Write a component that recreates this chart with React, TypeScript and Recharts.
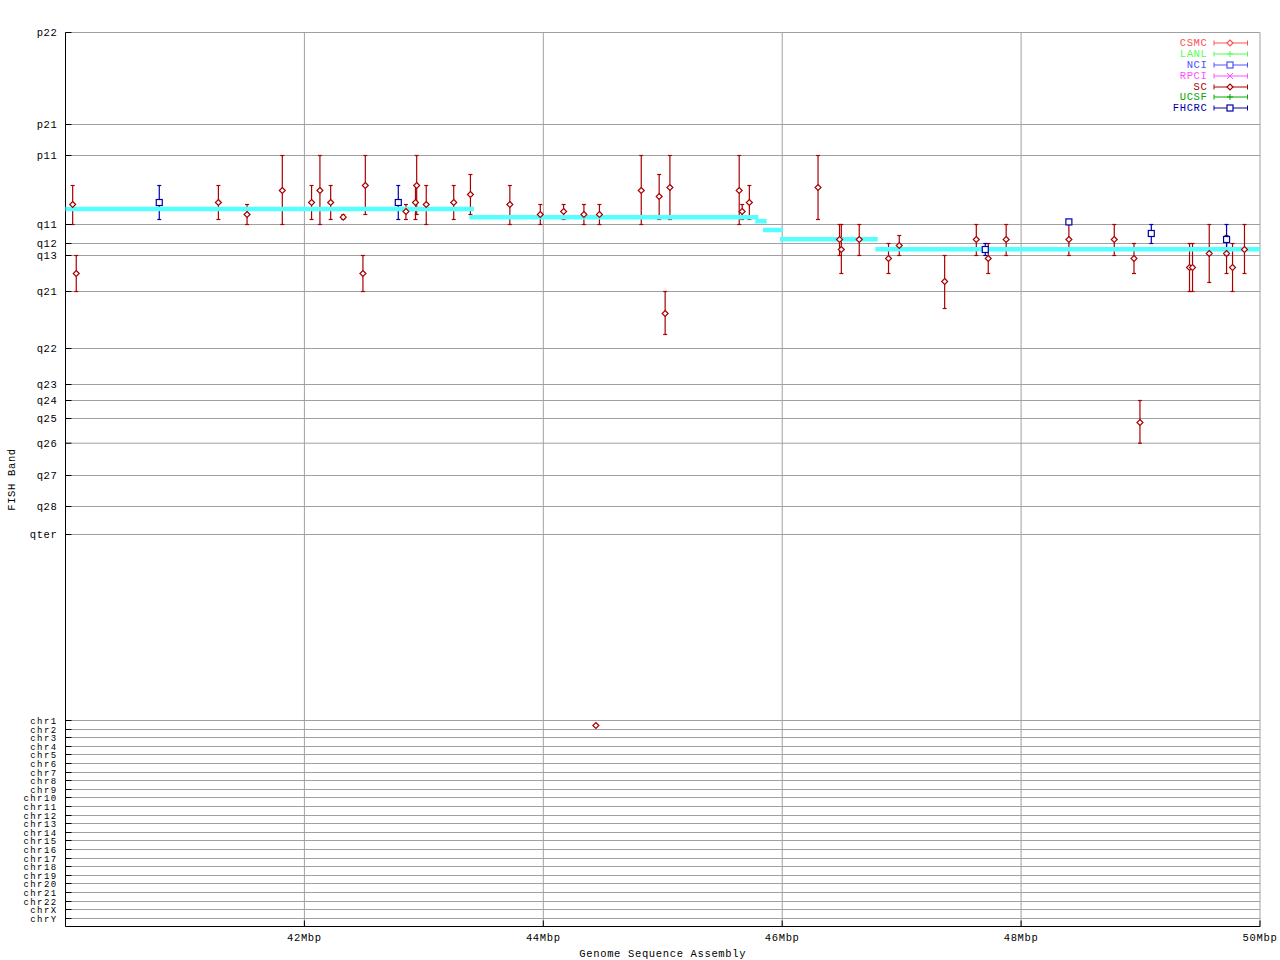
import React from 'react';
import {
  ComposedChart, Scatter, ErrorBar, XAxis, YAxis, CartesianGrid, Legend, Label,
} from 'recharts';

const FONT = '"Liberation Mono", "DejaVu Sans Mono", monospace';
const FS = 10.5;
const LS = 0.65;

// FISH band ticks (ideogram units, p22 at top)
const BAND_LABELS = [
  'p22', 'p21', 'p11', 'q11', 'q12', 'q13', 'q21', 'q22', 'q23', 'q24', 'q25', 'q26', 'q27', 'q28', 'qter',
  'chr1', 'chr2', 'chr3', 'chr4', 'chr5', 'chr6', 'chr7', 'chr8', 'chr9', 'chr10', 'chr11', 'chr12',
  'chr13', 'chr14', 'chr15', 'chr16', 'chr17', 'chr18', 'chr19', 'chr20', 'chr21', 'chr22', 'chrX', 'chrY',
];
const BAND_POS = [
  0, 92, 123, 192, 211, 223, 259, 316, 352, 368, 386, 410.7, 443, 474, 502,
  688, 697, 705, 714, 722, 731, 740, 748, 757, 765, 774, 783,
  791, 800, 808, 817, 826, 834, 843, 851, 860, 869, 877, 886,
];
const BAND_END = 894;

const X_TICKS = [42, 44, 46, 48, 50];

const SOURCE_NAMES = ['CSMC', 'LANL', 'NCI', 'RPCI', 'SC', 'UCSF', 'FHCRC'];
const SOURCE_COLORS = ['#ff5050', '#50ff50', '#5050ff', '#ff50ff', '#aa0000', '#00aa00', '#0000aa'];
const SOURCE_MARKERS = ['diamond', 'plus', 'square', 'cross', 'diamond', 'plus', 'square'];

// SC markers: position (Mbp), band, band range top/bottom
const SC_MBP = [
  40.06, 40.09, 41.28, 41.52, 41.815, 42.06, 42.13, 42.22, 42.325, 42.51, 42.49, 42.85, 42.93, 42.94,
  43.02, 43.25, 43.39, 43.72, 43.975, 44.17, 44.34, 44.47, 44.82, 44.97, 45.06, 45.02, 45.64, 45.665,
  45.725, 46.3, 46.48, 46.495, 46.645, 46.89, 46.98, 47.36, 47.625, 47.725, 47.875, 48.4, 48.78, 48.945,
  48.995, 49.41, 49.435, 49.575, 49.72, 49.77, 49.87, 44.44,
];
const SC_BAND = [
  172, 241, 170, 182, 158, 170, 158, 170, 184.7, 153, 241, 179, 170, 153,
  172, 170, 162, 172, 182, 179, 182, 182, 158, 164, 155, 281, 158, 179,
  170, 155, 207, 217, 207, 226, 213, 249, 207, 226, 207, 207, 207, 226,
  390, 235, 235, 221, 221, 235, 217, 693,
];
const SC_TOP = [
  153, 223, 153, 172, 123, 153, 123, 153, 182.4, 123, 223, 172, 153, 123,
  153, 153, 142, 153, 172, 172, 172, 172, 123, 142, 123, 259, 123, 172,
  153, 123, 192, 192, 192, 211, 203, 223, 192, 211, 192, 192, 192, 211,
  368, 211, 211, 192, 203, 211, 192, null,
];
const SC_BOTTOM = [
  192, 259, 187, 192, 192, 187, 192, 187, 186.7, 182, 259, 187, 187, 182,
  192, 187, 182, 192, 192, 187, 192, 192, 192, 187, 187, 302, 192, 187,
  187, 187, 223, 241, 223, 241, 223, 276, 223, 241, 223, 223, 223, 241,
  410.7, 259, 259, 250, 241, 259, 241, null,
];

const FH_MBP = [40.785, 42.786, 47.7, 48.4, 49.09, 49.72];
const FH_BAND = [170, 170, 217, 189.4, 201, 207];
const FH_TOP = [153, 153, 211, null, 192, 192];
const FH_BOTTOM = [187, 187, 223, null, 211, 223];

// sequence assembly placement (cyan steps)
const SEQ_START = [39.98, 43.38, 45.775, 45.84, 45.98, 46.78];
const SEQ_END = [43.42, 45.8, 45.87, 46.005, 46.8, 50];
const SEQ_BAND = [176.4, 184.7, 188.7, 197.4, 206.7, 216.7];
const SEQ_COLOR = '#55ffff';

const rows = (xs: number[], ys: number[], tops: (number | null)[], bottoms: (number | null)[]) =>
  xs.map((x, i) => ({
    x,
    y: ys[i],
    err: tops[i] == null ? null : [ys[i] - (tops[i] as number), (bottoms[i] as number) - ys[i]],
  }));

const SERIES: Record<string, any[]> = {
  SC: rows(SC_MBP, SC_BAND, SC_TOP, SC_BOTTOM),
  FHCRC: rows(FH_MBP, FH_BAND, FH_TOP, FH_BOTTOM),
};

const SEGMENTS = SEQ_START.map((s, i) => [
  { x: s, y: SEQ_BAND[i] },
  { x: SEQ_END[i], y: SEQ_BAND[i] },
]);

function Marker({ kind, cx, cy, color }: { kind: string; cx: number; cy: number; color: string }) {
  if (kind === 'diamond') {
    return <polygon points={`${cx},${cy - 3} ${cx + 3},${cy} ${cx},${cy + 3} ${cx - 3},${cy}`} fill="#fff" stroke={color} strokeWidth={1.2} />;
  }
  if (kind === 'square') {
    return <rect x={cx - 3} y={cy - 3} width={6} height={6} fill="#fff" stroke={color} strokeWidth={1.2} />;
  }
  if (kind === 'cross') {
    return <path d={`M${cx - 3},${cy - 3}L${cx + 3},${cy + 3}M${cx - 3},${cy + 3}L${cx + 3},${cy - 3}`} stroke={color} />;
  }
  return <path d={`M${cx - 3},${cy}H${cx + 3}M${cx},${cy - 3}V${cy + 3}`} stroke={color} />;
}

const txt = { fontFamily: FONT, fontSize: FS, letterSpacing: LS, fill: '#000' };

const LeftTick = ({ x, y, payload }: any) => {
  const label = BAND_LABELS[BAND_POS.indexOf(payload.value)];
  const chr = label.startsWith('chr');
  return (
    <g>
      <line x1={x} x2={x + 6} y1={y} y2={y} stroke="#000" />
      <text
        x={x - 8} y={y} dy={chr ? 3 : 3.6} textAnchor="end" {...txt}
        fontSize={chr ? 9 : FS} letterSpacing={chr ? 1.4 : LS}
      >
        {label}
      </text>
    </g>
  );
};
const RightTick = ({ x, y }: any) => <line x1={x} x2={x - 6} y1={y} y2={y} stroke="#000" />;
const BottomTick = ({ x, y, payload }: any) => (
  <g>
    <line x1={x} x2={x} y1={y} y2={y - 6} stroke="#000" />
    <text x={x} y={y + 14.5} textAnchor="middle" {...txt}>{`${payload.value}Mbp`}</text>
  </g>
);
const TopTick = ({ x, y }: any) => <line x1={x} x2={x} y1={y} y2={y + 6} stroke="#000" />;

const LegendContent = ({ payload }: any) => {
  const names = SOURCE_NAMES.filter((n) => (payload ?? []).some((p: any) => p.value === n));
  return (
    <div style={{ fontFamily: FONT, fontSize: FS, letterSpacing: LS }}>
      {names.map((n) => {
        const i = SOURCE_NAMES.indexOf(n);
        const c = SOURCE_COLORS[i];
        return (
          <div key={n} style={{ display: 'flex', justifyContent: 'flex-end', alignItems: 'center', height: 10.8 }}>
            <span style={{ color: c, lineHeight: '10px' }}>{n}</span>
            <svg width={36} height={10} style={{ marginLeft: 5, display: 'block' }}>
              <path d="M1,5H34.5M1,2.5V7.5M34.5,2.5V7.5" stroke={c} fill="none" />
              <Marker kind={SOURCE_MARKERS[i]} cx={17} cy={5} color={c} />
            </svg>
          </div>
        );
      })}
    </div>
  );
};

const YTitle = ({ viewBox }: any) => {
  const cx = viewBox.x + 6;
  const cy = viewBox.y + viewBox.height / 2;
  return (
    <text x={cx} y={cy} transform={`rotate(-90, ${cx}, ${cy})`} textAnchor="middle" dominantBaseline="central" {...txt}>
      FISH Band
    </text>
  );
};

export default function App() {
  return (
    <div style={{ position: 'absolute', left: 0, top: 0, width: 1280, height: 960, background: '#fff' }}>
      <ComposedChart width={1280} height={960} margin={{ top: 32.5, right: 20, bottom: 3.5, left: 5.5 }}>
        <CartesianGrid stroke="#a0a0a0" strokeWidth={1} />
        <XAxis
          dataKey="x" type="number" domain={[40, 50]} ticks={X_TICKS} interval={0} allowDataOverflow
          height={30} tickSize={0} tickMargin={0} tickLine={false} tick={<BottomTick />}
          axisLine={{ stroke: '#000' }}
        >
          <Label value="Genome Sequence Assembly" position="insideBottom" offset={0} style={txt} />
        </XAxis>
        <XAxis
          xAxisId="top" orientation="top" type="number" domain={[40, 50]} ticks={X_TICKS} interval={0}
          allowDataOverflow height={0} tickSize={0} tickMargin={0} tickLine={false} tick={<TopTick />}
          axisLine={{ stroke: '#000' }}
        >
          <Label value="Chromosome X FISH Markers vs Genome Sequence Assembly" position="top" offset={14} style={txt} />
        </XAxis>
        <YAxis
          dataKey="y" type="number" domain={[0, BAND_END]} reversed ticks={BAND_POS} interval={0} allowDataOverflow
          width={60} tickSize={0} tickMargin={0} tickLine={false} tick={<LeftTick />}
          axisLine={{ stroke: '#000' }}
        >
          <Label content={<YTitle />} />
        </YAxis>
        <YAxis
          yAxisId="right" orientation="right" type="number" domain={[0, BAND_END]} reversed ticks={BAND_POS}
          interval={0} allowDataOverflow width={0} tickSize={0} tickMargin={0} tickLine={false}
          tick={<RightTick />} axisLine={{ stroke: '#000' }}
        />
        {SEGMENTS.map((seg, i) => (
          <Scatter
            key={`seq${i}`}
            data={seg}
            line={{ stroke: SEQ_COLOR, strokeWidth: 4.5 }}
            lineType="joint"
            shape={() => <g />}
            legendType="none"
            isAnimationActive={false}
          />
        ))}
        {SOURCE_NAMES.map((name, i) => (
          <Scatter
            key={name}
            name={name}
            data={SERIES[name] ?? []}
            fill={SOURCE_COLORS[i]}
            isAnimationActive={false}
            shape={(p: any) => <Marker kind={SOURCE_MARKERS[i]} cx={p.cx} cy={p.cy} color={SOURCE_COLORS[i]} />}
          >
            <ErrorBar dataKey="err" direction="y" width={2} stroke={SOURCE_COLORS[i]} strokeWidth={1.2} />
          </Scatter>
        ))}
        <Legend
          layout="vertical" align="center" verticalAlign="middle"
          content={<LegendContent />}
          wrapperStyle={{ position: 'absolute', left: 1098.5, top: 38, width: 150, height: 80 }}
        />
      </ComposedChart>
    </div>
  );
}
